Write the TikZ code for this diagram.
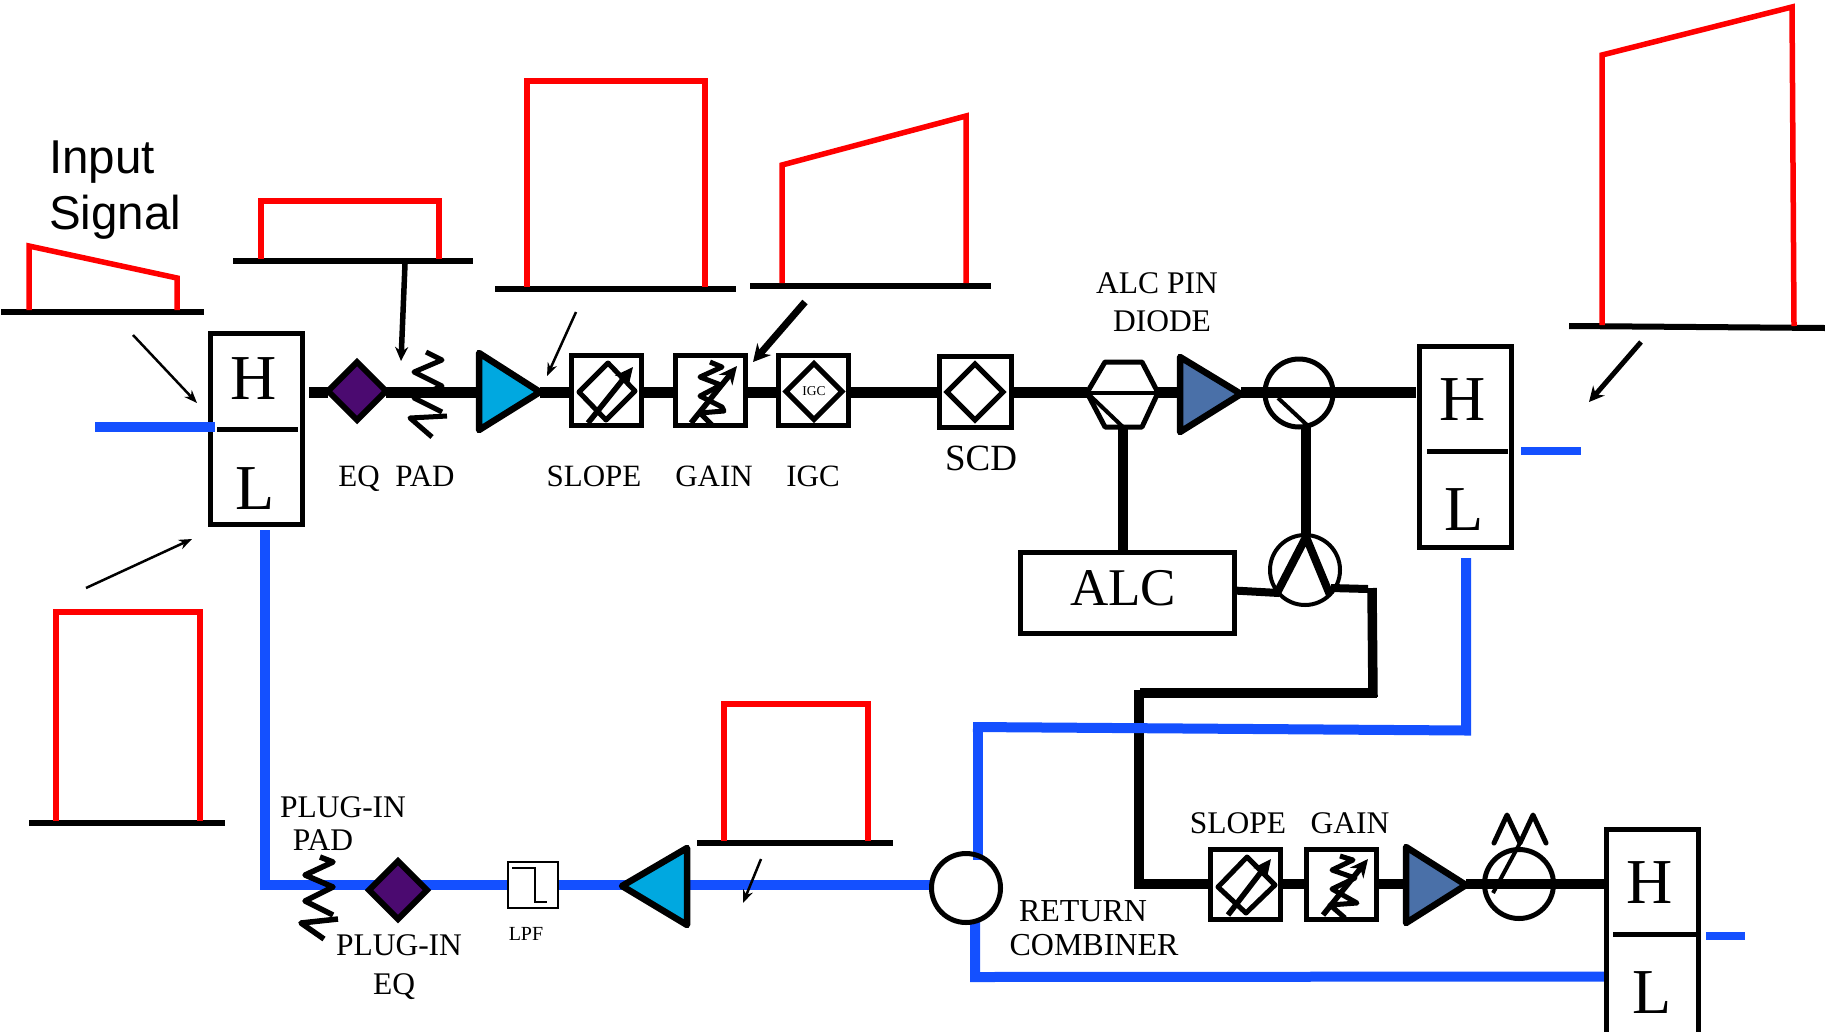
\documentclass[tikz,border=0pt]{standalone}
\usepackage{fontspec}
\setmainfont{Liberation Serif}
\newfontfamily\sansf{Liberation Sans}
\usetikzlibrary{arrows.meta,shapes.geometric,backgrounds}
\definecolor{sigred}{HTML}{FF0000}
\definecolor{retblue}{HTML}{1450FF}
\definecolor{eqpurple}{HTML}{4B0A70}
\definecolor{ampcyan}{HTML}{00A8E0}
\definecolor{ampblue}{HTML}{4A70A8}
\newcommand{\fs}[1]{\fontsize{#1}{#1}\selectfont}
\tikzset{
  x=1pt,y=-1pt,
  line join=miter,
  wire/.style={line width=10.7pt,black},
  thinwire/.style={line width=9.5pt,black},
  ret/.style={line width=10pt,retblue},
  stub/.style={line width=8pt,retblue},
  hlbox/.style={draw,line width=5pt,fill=white,minimum width=92pt,inner sep=0pt,outer sep=0pt},
  hlletter/.style={inner sep=0pt,font=\fs{64}},
  sq/.style={draw,line width=5pt,fill=white,minimum width=70pt,minimum height=70pt,inner sep=0pt,outer sep=0pt},
  sqb/.style={draw,line width=5pt,fill=white,minimum width=70pt,minimum height=70pt,inner sep=0pt,outer sep=0pt},
  eqd/.style={diamond,draw,line width=6pt,fill=eqpurple,minimum width=58pt,minimum height=58pt,inner sep=0pt,outer sep=0pt},
  opend/.style={diamond,draw,line width=5pt,fill=white,inner sep=0pt,outer sep=0pt},
  ring/.style={circle,draw,line width=5pt,inner sep=0pt,outer sep=0pt},
  amp/.style={draw,line width=6.5pt,line join=round},
  glyph/.style={line width=5pt,line join=round},
  glyphz/.style={line width=5pt,line join=round},
  sig/.style={line width=5.5pt,sigred},
  base/.style={line width=6pt,black},
  ptr/.style={line width=2.5pt,-{Stealth[length=13pt,width=10pt]}},
  ptrb/.style={line width=5.5pt,-{Stealth[length=14pt,width=13pt]}},
  ptrc/.style={line width=7pt,-{Stealth[length=17pt,width=18pt]}},
  ptrd/.style={line width=5pt,-{Stealth[length=15pt,width=15pt]}},
  lab/.style={inner sep=0pt,font=\fs{31}},
  labb/.style={inner sep=0pt,font=\fs{31.5}},
  tune/.style={line width=5.5pt,-{Stealth[length=18pt,width=17pt]}},
}
\begin{document}
\begin{tikzpicture}
\useasboundingbox (0,0) rectangle (1825,1031);
\clip (0,0) rectangle (1825,1031);

% ---------- nodes
\node[hlbox,minimum height=191pt] (hl1) at (256,429) {};
\node[hlletter] (hl1H) at (254,379) {H};
\node[hlletter] (hl1L) at (255.5,489) {L};
\coordinate (hl1d1) at (217,429); \coordinate (hl1d2) at (298,429);

\node[eqd] (eq) at (357,391) {};
\node[sq] (slope) at (606.5,390.5) {};
\node[sq] (gain) at (710.5,390.5) {};
\node[sq] (igc) at (813.5,390.5) {};
\node[sq,minimum width=72pt,minimum height=71pt] (scd) at (975,392) {};
\node[draw,line width=5pt,fill=white,minimum width=214pt,minimum height=81pt,inner sep=0pt,outer sep=0pt] (alc) at (1127,592.5) {};
\node[inner sep=0pt,font=\fs{53}] (alct) at (1123,588) {ALC};

\node[hlbox,minimum height=201pt] (hl2) at (1465.5,446.5) {};
\node[hlletter] (hl2H) at (1463,400) {H};
\node[hlletter] (hl2L) at (1464,510) {L};

\node[ring,minimum size=68pt] (coup) at (1299,393) {};
\node[ring,line width=4pt,minimum size=70pt] (det) at (1305,570) {};

\node[ring,minimum size=69pt] (comb) at (966,888) {};
\node[draw,line width=2.5pt,fill=white,minimum width=50pt,minimum height=46pt,inner sep=0pt,outer sep=0pt] (lpf) at (533,885) {};
\node[eqd] (eq2) at (398,890) {};
\node[sqb] (slope2) at (1245,884) {};
\node[sqb] (gain2) at (1341,884) {};
\node[ring,minimum size=69pt] (att) at (1519,884) {};
\node[hlbox,minimum height=240pt] (hl3) at (1652.5,949) {};
\node[hlletter] (hl3H) at (1650,883) {H};
\node[hlletter] (hl3L) at (1652,993) {L};

% ---------- free ends
\coordinate (w1) at (309,392.7);
\coordinate (a1w) at (479,392.7); \coordinate (a1t) at (540,391);
\coordinate (hexL) at (1087,392.7); \coordinate (hexR) at (1158,392.7);
\coordinate (hexB) at (1123,427);
\coordinate (a2w) at (1180,392.7); \coordinate (a2t) at (1241,392.7);
\coordinate (a3w) at (687,886); \coordinate (a3t) at (622,886);
\coordinate (a4w) at (1406,884); \coordinate (a4t) at (1466,884);
\coordinate (hl2in) at (1416,392.7);
\coordinate (hl3in) at (1610,884);

% ---------- wires
\begin{scope}[on background layer]
\draw[wire] (w1) -- (eq.west |- w1);
\draw[wire] (eq.east |- w1) -- (a1w);
\draw[wire] (a1t |- w1) -- (slope.west |- w1);
\draw[wire] (slope.east |- w1) -- (gain.west |- w1);
\draw[wire] (gain.east |- w1) -- (igc.west |- w1);
\draw[wire] (igc.east |- w1) -- (scd.west |- w1);
\draw[wire] (scd.east |- w1) -- (hexL);
\draw[wire] (hexR) -- (a2w |- hexR);
\draw[wire] (a2t |- w1) -- (hl2in |- w1);
\draw[thinwire] (hexB) -- (hexB |- alc.north);
\draw[thinwire] (1306,425) -- (1306,535);
\draw[line width=8pt] (alc.east |- 0,590.5) -- (1279,593);
\draw[line width=8pt] (1331,588) -- (1368,589);
\draw[thinwire] (1372,588) -- (1373,697);
\draw[thinwire] (1377,693) -- (1140,693);
\draw[thinwire] (1139,690) -- (1139,888.9);
\draw[wire] (1135,884) -- (slope2.west);
\draw[wire] (slope2.east) -- (gain2.west);
\draw[wire] (gain2.east) -- (a4w);
\draw[wire] (a4t) -- (hl3in);
% return paths
\draw[ret] (265,530) -- (265,885) -- (comb.west |- 0,885);
\draw[ret] (1466,558) -- (1466,730.5) -- (973,727);
\draw[ret] (978,722.5) -- (978,860);
\draw[ret] (975,920) -- (975,977) -- (hl3.west |- 0,976.5);
\end{scope}
\draw[stub,line width=10.5pt] (95,427) -- (215,427);
\draw[stub] (1521,451) -- (1581,451);
\draw[stub] (1706,936) -- (1745,936);

% ---------- dividers in the H/L boxes
\draw[line width=5pt] (hl1d1) -- (hl1d2);
\draw[line width=5pt] (1427,451) -- (1508,451);
\draw[line width=5pt] (1613,934) -- (1696,934);

% ---------- amplifiers
\draw[amp,fill=ampcyan] (479,353) -- (540,392) -- (479,430) -- cycle;
\draw[amp,fill=ampblue] (1180,357) -- (1241,394) -- (1180,432) -- cycle;
\draw[amp,fill=ampcyan] (687,848) -- (622,886) -- (687,925) -- cycle;
\draw[amp,fill=ampblue] (1406,847) -- (1466,885) -- (1406,923) -- cycle;

% ---------- pads
\draw[glyphz] (426,352) -- (442,360) -- (414,372) -- (442,386) -- (414,398) -- (442,412);
\draw[glyphz] (447,416) -- (410,418) -- (432,437);
\draw[glyphz,line width=5.5pt] (320,857) -- (333,862) -- (305,875) -- (333,887) -- (305,901) -- (333,915);
\draw[glyphz,line width=5.5pt] (338,919) -- (301,923) -- (324,939);

% ---------- slope / gain / igc / scd symbols
\draw[glyph] (608,363) -- (635,391) -- (606,420) -- (579,392) -- cycle;
\draw[tune] (588,423) -- (633,367);
\draw[glyphz] (710,362) -- (722,367) -- (700,377) -- (721,385) -- (700,396) -- (722,407) -- (724,411) -- (700,413) -- (712,425);
\draw[tune] (691,423) -- (737,366);
\node[opend,minimum width=56pt,minimum height=56pt,font=\fs{13.5}] (igcd) at (814,391.5) {IGC};
\node[opend,minimum width=56pt,minimum height=56pt] (scdd) at (975,392) {};
\draw[glyph] (1247,857) -- (1275,885) -- (1246,913) -- (1218,887) -- cycle;
\draw[tune] (1228,915) -- (1271,859);
\draw[glyphz] (1340,856) -- (1353,860) -- (1332,870) -- (1355,878) -- (1332,889) -- (1357,903) -- (1330,905) -- (1345,918);
\draw[tune] (1323,915) -- (1368,859);

% ---------- hexagon
\draw[glyph] (hexL) -- (1105,362) -- (1142,362) -- (hexR) -- (1142,427) -- (1105,427) -- cycle;
\draw[line width=4pt] (hexL) -- (hexR);
\draw[line width=4pt] (hexL) -- (hexB);

% ---------- coupler and detector interiors
\draw[line width=4pt] (1278,398) -- (1307,425);
\draw[line width=8pt,line join=miter] (1277,593) -- (1306,537) -- (1330,595);

% ---------- attenuator marks
\draw[line width=4pt] (1493,893) -- (1520,843);
\draw[glyph,line cap=round] (1494,843) -- (1507,815) -- (1520,843) -- (1533,815) -- (1546,843);

% ---------- lpf
\draw[line width=2.5pt] (512,868) -- (535,868) -- (535,902) -- (547,902);

% ---------- spectra
\draw[base] (1,312) -- (204,312);
\draw[sig] (29,310) -- (29,246) -- (177,278) -- (177,310);
\draw[base] (233,260.5) -- (473,260.5);
\draw[sig] (261,259) -- (261,201) -- (439,201) -- (439,259);
\draw[base] (495,288.5) -- (736,288.5);
\draw[sig] (527,287) -- (527,81) -- (705,81) -- (705,287);
\draw[base] (750,285.5) -- (991,285.5);
\draw[sig] (782,283) -- (782,165) -- (966,116) -- (966,283);
\draw[base] (1569,326) -- (1825,328);
\draw[sig] (1602,325) -- (1602,55) -- (1792,7) -- (1794,326);
\draw[base] (29,823) -- (225,823);
\draw[sig] (56,821) -- (56,612) -- (200,612) -- (200,821);
\draw[base] (697,843) -- (893,843);
\draw[sig] (724,841) -- (724,704) -- (868,704) -- (868,841);

% ---------- spectrum pointers
\draw[ptr] (133,335) -- (197,403);
\draw[ptr] (86,588) -- (192,539);
\draw[ptrb] (405,264) -- (401,361);
\draw[ptr] (576,312) -- (547,376);
\draw[ptrc] (805,302) -- (753,362);
\draw[ptrd] (1641,342) -- (1589,402);
\draw[ptr] (761,859) -- (743,903);

% ---------- labels
\node[inner sep=0pt,anchor=west,font=\sansf\fs{47.5}] (t1) at (49,162) {Input};
\node[inner sep=0pt,anchor=west,font=\sansf\fs{47.5}] (t2) at (49,217) {Signal};
\node[lab,anchor=base] (t3) at (359,486) {EQ};
\node[lab,anchor=base] (t4) at (425,486) {PAD};
\node[lab,anchor=base] (t5) at (594,486) {SLOPE};
\node[lab,anchor=base] (t6) at (714,486) {GAIN};
\node[lab,anchor=base] (t7) at (813,486) {IGC};
\node[inner sep=0pt,font=\fs{37}] (t8) at (981,458) {SCD};
\node[labb] (t9) at (1157,283) {ALC PIN};
\node[labb] (t10) at (1162,321) {DIODE};
\node[labb] (t11) at (1238,823) {SLOPE};
\node[labb] (t12) at (1350,823) {GAIN};
\node[labb] (t13) at (343,807) {PLUG-IN};
\node[labb] (t14) at (323,840) {PAD};
\node[labb] (t15) at (399,945) {PLUG-IN};
\node[labb,anchor=base] (t16) at (394,994) {EQ};
\node[inner sep=0pt,font=\fs{20}] (t17) at (526,934) {LPF};
\node[labb,font=\fs{32}] (t18) at (1083,911) {RETURN};
\node[labb,font=\fs{32}] (t19) at (1094,945) {COMBINER};
\end{tikzpicture}
\end{document}
